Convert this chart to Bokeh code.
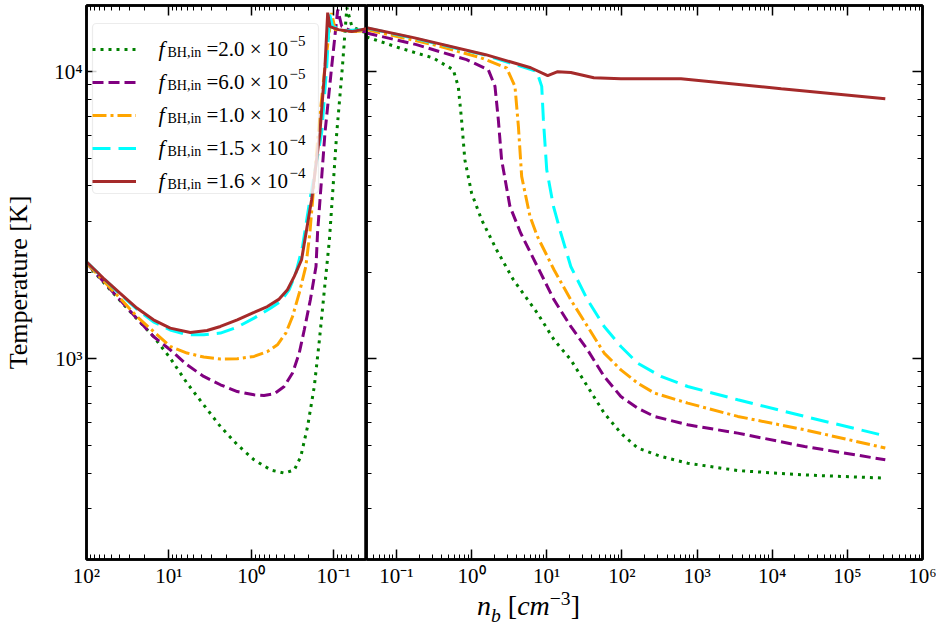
import math
from bokeh.plotting import figure
from bokeh.models import (Range1d, LogAxis, FixedTicker, Legend, LegendItem, Label, Div,
                          BoxAnnotation)
from bokeh.layouts import row, column
from bokeh.core.properties import value
from bokeh.embed import file_html
from bokeh.resources import INLINE

# ---------------- data ----------------
f_values = [2.0e-5, 6.0e-5, 1.0e-4, 1.5e-4, 1.6e-4]
colors = ["green", "purple", "orange", "cyan", "brown"]
dashes = ["3 5", "11 5", "14 4 3 4", "18 8", "solid"]

# left panel: density decreasing (expansion phase)
green_left_n = [100, 29.6, 15.4, 9.64, 6.03, 3.78, 2.37, 1.48, 0.927, 0.58, 0.399, 0.301, 0.2506,
                0.2075, 0.172, 0.149, 0.1297, 0.1127, 0.0918, 0.0783, 0.0693, 0.0603, 0.0456, 0.04]
green_left_T = [2143, 1461, 1196, 1006, 823, 691, 581, 502, 445, 410, 400, 410, 457,
                581, 801, 1165, 1740, 2598, 6130, 10440, 16710, 14380, 13820, 13680]

purple_left_n = [100, 39.3, 26.9, 15.4, 9.64, 6.03, 3.78, 2.37, 1.48, 0.927, 0.70, 0.528, 0.399,
                 0.316, 0.262, 0.2275, 0.192, 0.164, 0.157, 0.1276, 0.1057, 0.0894, 0.0798,
                 0.0603, 0.04]
purple_left_T = [2160, 1605, 1423, 1196, 1075, 953, 868, 812, 769, 749, 745, 755, 801,
                 892, 1047, 1262, 1605, 2097, 2748, 6130, 10440, 16440, 14380,
                 13820, 13790]

orange_left_n = [100, 39.3, 24.5, 15.4, 9.64, 6.03, 3.78, 2.37, 1.48, 0.927, 0.638, 0.482, 0.381,
                 0.316, 0.262, 0.218, 0.1946, 0.154, 0.1276, 0.1057, 0.0964, 0.0603, 0.04]
orange_left_T = [2160, 1627, 1404, 1245, 1104, 1047, 1014, 998, 1000, 1019, 1060, 1119, 1229,
                 1404, 1694, 2097, 2748, 6130, 10440, 16010, 14010, 13790, 13900]

cyan_left_n = [100, 62.7, 39.3, 24.5, 15.4, 9.64, 6.03, 3.78, 2.37, 1.48, 0.927, 0.58, 0.44,
               0.347, 0.288, 0.239, 0.1946, 0.140, 0.1216, 0.112, 0.1028, 0.0693, 0.04]
cyan_left_T = [2178, 1911, 1680, 1490, 1345, 1260, 1212, 1212, 1229, 1289, 1386, 1502, 1584,
               1740, 1990, 2462, 3581, 6130, 10410, 15800, 14350, 13900, 14010]

brown_left_n = [100, 62.7, 39.3, 24.5, 15.4, 9.64, 5.5, 3.44, 2.37, 1.48, 0.927, 0.638, 0.459,
                0.364, 0.301, 0.2455, 0.1855, 0.147, 0.1276, 0.1183, 0.111, 0.0877, 0.0603, 0.04]
brown_left_T = [2178, 1911, 1694, 1502, 1367, 1279, 1235, 1255, 1296, 1367, 1450, 1521, 1614,
                1740, 1936, 2213, 3581, 6130, 10410, 16050, 14350, 14010, 13790, 14120]

# right panel: density increasing (collapse phase)
green_right_n = [0.04, 0.1107, 0.308, 0.570, 0.665, 0.736, 0.814, 1.0, 1.36, 2.15, 3.60, 7.51,
                 12.5, 20.9, 34.9, 58.1, 97, 162, 331, 752, 3483, 27000, 320000]
green_right_T = [13210, 12090, 11160, 10160, 8889, 6804, 4936, 3779, 3050, 2398, 1885, 1443,
                 1165, 992, 801, 647, 551, 489, 457, 433, 408, 394, 384]

purple_right_n = [0.04, 0.185, 0.858, 1.67, 2.05, 2.27, 2.51, 3.24, 4.5, 7.51, 12.5, 20.9,
                  34.9, 58.1, 97, 162, 270, 752, 3483, 27000, 320000]
purple_right_T = [13640, 12420, 11010, 10160, 8889, 6804, 4936, 3394, 2742, 2097, 1605, 1296,
                  1075, 868, 739, 673, 630, 589, 551, 495, 445]

orange_right_n = [0.04, 0.308, 1.32, 2.93, 3.78, 4.20, 4.64, 5.99, 7.51, 12.5, 20.9, 34.9,
                  58.1, 97, 162, 270, 752, 3483, 27000, 320000]
orange_right_T = [14010, 12420, 11190, 10300, 8889, 6449, 4317, 3132, 2668, 2042, 1605, 1296,
                  1047, 915, 823, 760, 701, 630, 566, 489]

cyan_right_n = [0.04, 0.169, 1.54, 7.36, 8.58, 9.03, 10.0, 12.3, 15.4, 20.9, 34.9, 58.1,
                97, 162, 331, 752, 3483, 27000, 320000]
cyan_right_T = [14200, 13080, 11410, 10020, 8889, 6804, 4555, 3394, 2742, 2097, 1605, 1296,
                1104, 966, 868, 801, 720, 630, 539]

brown_right_n = [0.04, 0.169, 1.54, 6.12, 10.3, 14.0, 20.9, 42.3, 97, 612, 13200, 320000]
brown_right_T = [14220, 13140, 11460, 10320, 9683, 10000, 9931, 9528, 9454, 9454, 8726, 8053]

left_series = [(green_left_n, green_left_T), (purple_left_n, purple_left_T),
               (orange_left_n, orange_left_T), (cyan_left_n, cyan_left_T),
               (brown_left_n, brown_left_T)]
right_series = [(green_right_n, green_right_T), (purple_right_n, purple_right_T),
                (orange_right_n, orange_right_T), (cyan_right_n, cyan_right_T),
                (brown_right_n, brown_right_T)]

# axis ranges and ticks
x_left_start, x_left_end = 100, 0.04
x_right_start, x_right_end = 0.04, 1e6
y_min, y_max = 200, 17000
x_major_left = [0.1, 1, 10, 100]
x_labels_left = ["10⁻¹", "10⁰", "10¹", "10²"]
x_major_right = [0.1, 1, 10, 100, 1000, 10000, 100000, 1000000]
x_labels_right = ["10⁻¹", "10⁰", "10¹", "10²", "10³", "10⁴", "10⁵", "10⁶"]
y_major = [1000, 10000]
y_labels = ["10³", "10⁴"]
x_minor = [m * 10.0 ** k for k in range(-2, 6) for m in range(2, 10)]
y_minor = [m * 10.0 ** k for k in range(2, 5) for m in range(2, 10)]

FONT = "Liberation Serif"
FW_LEFT, FW_RIGHT, FH = 280, 556, 554


def style_axis(ax, show_labels, ticks=None, labels=None):
    ax.major_tick_in = 10
    ax.major_tick_out = 0
    ax.minor_tick_in = 5
    ax.minor_tick_out = 0
    ax.major_tick_line_width = 1.5
    ax.minor_tick_line_width = 1
    ax.major_tick_line_color = "black"
    ax.minor_tick_line_color = "black"
    ax.axis_line_color = "black"
    ax.axis_line_width = 2.5
    if show_labels:
        ax.major_label_text_font = FONT
        ax.major_label_text_font_size = "21px"
        ax.major_label_text_color = "black"
        ax.major_label_standoff = 4
        ax.major_label_overrides = {t: s for t, s in zip(ticks, labels)}
    else:
        ax.major_label_text_font_size = "1px"
        ax.major_label_text_alpha = 0
        ax.major_label_standoff = 0


def make_fig(xr, yr, fw, **borders):
    p = figure(x_axis_type="log", y_axis_type="log", x_range=xr, y_range=yr,
               frame_width=fw, frame_height=FH, output_backend="svg",
               toolbar_location=None, min_border=0, **borders)
    p.xgrid.visible = False
    p.ygrid.visible = False
    p.outline_line_color = "black"
    p.outline_line_width = 2.5
    p.background_fill_color = "white"
    p.border_fill_color = "white"
    return p


yr = Range1d(y_min, y_max)
p1 = make_fig(Range1d(x_left_start, x_left_end), yr, FW_LEFT,
              min_border_left=86, min_border_right=0, min_border_top=5, min_border_bottom=30)
p2 = make_fig(Range1d(x_right_start, x_right_end), yr, FW_RIGHT,
              min_border_left=0, min_border_right=14, min_border_top=5, min_border_bottom=30)

# left figure axes
p1.xaxis.ticker = FixedTicker(ticks=x_major_left, minor_ticks=x_minor)
p1.yaxis.ticker = FixedTicker(ticks=y_major, minor_ticks=y_minor)
style_axis(p1.xaxis[0], True, x_major_left, x_labels_left)
style_axis(p1.yaxis[0], True, y_major, y_labels)
p1.yaxis.axis_label = "Temperature [K]"
p1.yaxis.axis_label_text_font = FONT
p1.yaxis.axis_label_text_font_size = "26px"
p1.yaxis.axis_label_text_font_style = "normal"
p1.yaxis.axis_label_text_color = "black"
p1.yaxis.axis_label_standoff = 18
top1 = LogAxis(ticker=FixedTicker(ticks=x_major_left, minor_ticks=x_minor))
style_axis(top1, False)
p1.add_layout(top1, "above")

# right figure axes
p2.xaxis.ticker = FixedTicker(ticks=x_major_right, minor_ticks=x_minor)
p2.yaxis.ticker = FixedTicker(ticks=y_major, minor_ticks=y_minor)
style_axis(p2.xaxis[0], True, x_major_right, x_labels_right)
style_axis(p2.yaxis[0], False)
top2 = LogAxis(ticker=FixedTicker(ticks=x_major_right, minor_ticks=x_minor))
style_axis(top2, False)
p2.add_layout(top2, "above")
right2 = LogAxis(ticker=FixedTicker(ticks=y_major, minor_ticks=y_minor))
style_axis(right2, False)
p2.add_layout(right2, "right")

# curves
left_renderers = []
for (n, T), c, d in zip(left_series, colors, dashes):
    left_renderers.append(p1.line(n, T, line_color=c, line_width=3, line_dash=d))
for (n, T), c, d in zip(right_series, colors, dashes):
    p2.line(n, T, line_color=c, line_width=3, line_dash=d)

# legend box (frame-relative screen pixels, y measured up from the frame bottom)
box = BoxAnnotation(left=6, right=232, bottom=366, top=536,
                    left_units="screen", right_units="screen",
                    bottom_units="screen", top_units="screen",
                    fill_color="white", fill_alpha=0.8, line_color="#bfbfbf", line_width=1.2,
                    border_radius=4)
p1.add_layout(box)

legend = Legend(items=[LegendItem(label=value(" "), renderers=[r]) for r in left_renderers],
                location=(6, 366), glyph_width=44, glyph_height=24, label_height=24,
                label_width=152, label_standoff=16, spacing=9, padding=7,
                border_line_color=None, background_fill_alpha=0,
                label_text_font_size="10px")
p1.add_layout(legend)

for i, fv in enumerate(f_values):
    e = int(math.floor(math.log10(fv) + 1e-9))
    m = fv / 10 ** e
    base_y = 511 - 33 * i
    common = dict(x_units="screen", y_units="screen", text_font=FONT, text_color="black",
                  text_baseline="alphabetic", level="overlay")
    p1.add_layout(Label(x=72, y=base_y, text="f", text_font_size="22px",
                        text_font_style="italic", **common))
    p1.add_layout(Label(x=81, y=base_y - 4, text="BH,in", text_font_size="14px", **common))
    p1.add_layout(Label(x=120, y=base_y, text="=%.1f × 10" % m, text_font_size="21px",
                        **common))
    p1.add_layout(Label(x=203, y=base_y + 8, text=str(e).replace("-", "−"),
                        text_font_size="15px", **common))

# x axis label (n_b [cm^-3]) under both panels
xlabel = Div(text='<i>n</i><sub style="font-style:italic;font-size:70%;line-height:0">b</sub>'
                  '&nbsp;[<i>cm</i><sup style="font-size:70%;line-height:0">−3</sup>]',
             width=220, height=33, margin=(2, 0, 0, 477),
             styles={"font-family": FONT, "font-size": "28px", "color": "black",
                     "line-height": "1", "white-space": "nowrap"})

layout = column(row(p1, p2), xlabel)
open("out.html", "w").write(file_html(layout, INLINE))
